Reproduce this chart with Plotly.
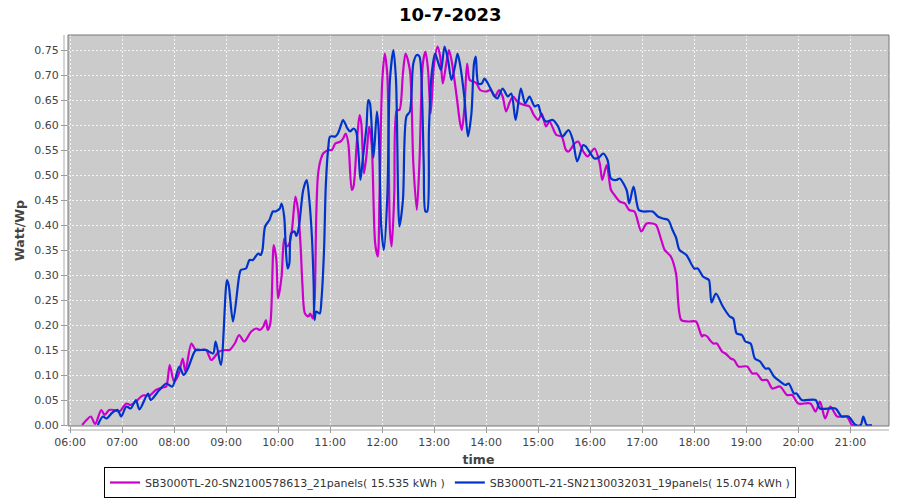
import plotly.graph_objects as go

DAY = "2023-07-10 "

mag_name = "SB3000TL-20-SN2100578613_21panels( 15.535 kWh )"
mag_time = ["06:14","06:19","06:24","06:29","06:36","06:40","06:45","06:51","06:57","07:05",
            "07:10","07:16","07:24","07:32","07:39","07:47","07:51","07:55","08:00","08:05",
            "08:10","08:13","08:20","08:25","08:31","08:37","08:43","08:52","09:00","09:04",
            "09:10","09:15","09:21","09:29","09:35","09:39","09:43","09:46","09:48","09:51",
            "09:55","09:58","10:00","10:04","10:07","10:10","10:13","10:16","10:20","10:23",
            "10:26","10:28","10:31","10:35","10:37","10:40","10:42","10:44","10:46","10:49",
            "10:52","10:58","11:02","11:06","11:12","11:15","11:18","11:21","11:25","11:27",
            "11:31","11:34","11:36","11:39","11:42","11:45","11:48","11:52","11:55","11:57",
            "12:00","12:03","12:06","12:09","12:11","12:14","12:17","12:20","12:24","12:27",
            "12:32","12:36","12:40","12:43","12:47","12:50","12:53","12:56","13:00","13:04",
            "13:07","13:10","13:14","13:17","13:20","13:26","13:30","13:32","13:35","13:38",
            "13:41","13:45","13:49","13:53","14:00","14:05","14:10","14:15","14:19","14:23",
            "14:27","14:31","14:37","14:44","14:50","14:55","15:00","15:04","15:09","15:13",
            "15:21","15:27","15:32","15:35","15:42","15:46","15:52","15:57","16:05","16:11",
            "16:14","16:19","16:24","16:28","16:34","16:40","16:45","16:51","16:59","17:05",
            "17:12","17:16","17:22","17:26","17:33","17:39","17:45","17:53","18:02","18:06",
            "18:09","18:11","18:15","18:18","18:22","18:26","18:32","18:36","18:42","18:46",
            "18:51","19:01","19:07","19:12","19:18","19:24","19:30","19:39","19:47","19:53",
            "20:00","20:14","20:20","20:25","20:31","20:37","20:45","20:56","21:02","21:08"]
mag_val = [0.000,0.010,0.017,0.002,0.030,0.020,0.030,0.030,0.027,0.043,
           0.040,0.047,0.059,0.059,0.070,0.075,0.077,0.120,0.087,0.100,
           0.133,0.107,0.163,0.150,0.150,0.150,0.130,0.147,0.150,0.150,
           0.163,0.180,0.167,0.187,0.193,0.190,0.197,0.210,0.190,0.203,
           0.360,0.330,0.253,0.297,0.373,0.357,0.363,0.390,0.457,0.430,
           0.357,0.283,0.223,0.217,0.223,0.213,0.243,0.417,0.500,0.530,
           0.543,0.550,0.550,0.563,0.567,0.573,0.583,0.563,0.470,0.477,
           0.570,0.620,0.603,0.503,0.540,0.597,0.560,0.363,0.337,0.460,
           0.683,0.743,0.700,0.390,0.357,0.460,0.630,0.630,0.703,0.743,
           0.710,0.523,0.430,0.523,0.723,0.747,0.710,0.623,0.723,0.757,
           0.737,0.683,0.723,0.750,0.730,0.657,0.603,0.590,0.637,0.723,
           0.690,0.687,0.683,0.670,0.667,0.670,0.657,0.670,0.657,0.627,
           0.645,0.657,0.645,0.640,0.637,0.620,0.610,0.623,0.597,0.607,
           0.580,0.577,0.550,0.547,0.563,0.567,0.547,0.537,0.553,0.523,
           0.490,0.520,0.470,0.460,0.447,0.443,0.430,0.427,0.387,0.403,
           0.403,0.400,0.370,0.350,0.337,0.303,0.210,0.207,0.207,0.190,
           0.177,0.180,0.177,0.170,0.163,0.163,0.147,0.143,0.133,0.130,
           0.117,0.117,0.103,0.103,0.090,0.090,0.073,0.077,0.060,0.060,
           0.043,0.043,0.027,0.047,0.013,0.037,0.017,0.017,0.000,0.000]

blue_name = "SB3000TL-21-SN2130032031_19panels( 15.074 kWh )"
blue_time = ["06:32","06:38","06:42","06:49","06:55","06:59","07:05","07:10","07:16","07:20",
             "07:30","07:33","07:43","07:51","07:58","08:06","08:11","08:16","08:25","08:31",
             "08:37","08:45","08:48","08:54","09:01","09:03","09:08","09:15","09:17","09:23",
             "09:27","09:31","09:37","09:40","09:42","09:45","09:50","09:54","09:57","10:02",
             "10:04","10:07","10:09","10:11","10:13","10:15","10:19","10:21","10:23","10:25",
             "10:29","10:33","10:36","10:39","10:41","10:42","10:44","10:48","10:50","10:53",
             "10:55","10:58","11:00","11:06","11:09","11:12","11:15","11:20","11:23","11:27",
             "11:30","11:33","11:35","11:38","11:42","11:44","11:46","11:50","11:54","11:56",
             "11:59","12:02","12:06","12:09","12:13","12:16","12:20","12:24","12:28","12:32",
             "12:36","12:40","12:43","12:46","12:48","12:50","12:52","12:54","12:57","13:01",
             "13:05","13:08","13:12","13:16","13:20","13:24","13:27","13:30","13:35","13:39",
             "13:43","13:46","13:48","13:51","13:55","13:58","14:02","14:10","14:13","14:19",
             "14:25","14:29","14:34","14:40","14:45","14:50","14:56","15:00","15:03","15:09",
             "15:17","15:23","15:28","15:35","15:40","15:45","15:52","15:55","16:05","16:10",
             "16:15","16:20","16:24","16:30","16:34","16:42","16:45","16:50","16:56","17:01",
             "17:12","17:18","17:24","17:30","17:35","17:39","17:43","17:51","18:00","18:04",
             "18:10","18:14","18:17","18:20","18:25","18:33","18:41","18:45","18:49","18:55",
             "18:59","19:05","19:10","19:16","19:22","19:26","19:32","19:39","19:45","19:49",
             "19:55","19:58","20:04","20:20","20:25","20:43","20:50","20:58","21:06","21:12",
             "21:15","21:19","21:25"]
blue_val = [0.000,0.017,0.013,0.025,0.030,0.017,0.037,0.033,0.050,0.031,
            0.063,0.050,0.070,0.083,0.077,0.117,0.100,0.113,0.150,0.150,
            0.150,0.143,0.167,0.120,0.290,0.280,0.207,0.297,0.310,0.313,
            0.330,0.330,0.343,0.340,0.350,0.397,0.410,0.427,0.427,0.433,
            0.443,0.417,0.350,0.313,0.323,0.383,0.387,0.378,0.387,0.410,
            0.470,0.490,0.450,0.377,0.283,0.210,0.227,0.223,0.250,0.350,
            0.477,0.557,0.577,0.577,0.583,0.597,0.610,0.593,0.587,0.593,
            0.587,0.537,0.490,0.537,0.597,0.650,0.643,0.535,0.627,0.590,
            0.397,0.350,0.457,0.690,0.750,0.690,0.397,0.450,0.617,0.627,
            0.723,0.740,0.737,0.657,0.523,0.427,0.427,0.590,0.700,0.743,
            0.723,0.710,0.757,0.730,0.690,0.717,0.743,0.720,0.653,0.577,
            0.623,0.723,0.737,0.683,0.683,0.693,0.683,0.657,0.653,0.673,
            0.657,0.663,0.610,0.673,0.643,0.657,0.637,0.640,0.623,0.607,
            0.610,0.597,0.577,0.590,0.570,0.527,0.560,0.557,0.533,0.535,
            0.543,0.530,0.493,0.490,0.493,0.470,0.443,0.477,0.430,0.427,
            0.427,0.417,0.413,0.410,0.390,0.375,0.350,0.340,0.313,0.313,
            0.297,0.293,0.290,0.245,0.263,0.237,0.217,0.213,0.183,0.180,
            0.167,0.163,0.133,0.127,0.113,0.113,0.097,0.087,0.080,0.083,
            0.063,0.063,0.050,0.050,0.033,0.033,0.017,0.017,0.000,0.000,
            0.017,0.000,0.000]

y_ticks = [0.00,0.05,0.10,0.15,0.20,0.25,0.30,0.35,0.40,0.45,0.50,0.55,0.60,0.65,0.70,0.75]
x_ticks = ["06:00","07:00","08:00","09:00","10:00","11:00","12:00","13:00","14:00",
           "15:00","16:00","17:00","18:00","19:00","20:00","21:00"]

FONT = "DejaVu Sans"
PLOT_W = 900 - 68 - 11
PLOT_H = 500 - 35 - 74

fig = go.Figure()
fig.add_trace(go.Scatter(x=[DAY + t for t in mag_time], y=mag_val, mode="lines", name=mag_name,
                         line=dict(color="#cc00cc", width=2.2, shape="spline", smoothing=0.8)))
fig.add_trace(go.Scatter(x=[DAY + t for t in blue_time], y=blue_val, mode="lines", name=blue_name,
                         line=dict(color="#0033cc", width=2.2, shape="spline", smoothing=0.8)))

grid = dict(showgrid=True, gridcolor="#f4f4f4", gridwidth=1, griddash="2px,2px", zeroline=False,
            automargin=False)

fig.update_layout(
    width=900, height=500,
    margin=dict(l=68, r=11, t=35, b=74, autoexpand=False),
    paper_bgcolor="white", plot_bgcolor="#cbcbcb",
    font=dict(family=FONT, size=11, color="#444444"),
    showlegend=True,
    legend=dict(orientation="h", xref="container", x=0.5, xanchor="center",
                yref="container", y=0.004, yanchor="bottom",
                bordercolor="black", borderwidth=1, bgcolor="white",
                font=dict(family=FONT, size=11, color="#333333"), itemwidth=30,
                tracegroupgap=0),
    xaxis=dict(type="date", range=[DAY + "05:57:40", DAY + "21:44:40"],
               tickvals=[DAY + t for t in x_ticks], ticktext=x_ticks,
               ticks="outside", ticklen=6, tickcolor="#999999",
               tickfont=dict(family=FONT, size=11, color="#444444"),
               title=dict(text="<b>time</b>", standoff=8,
                          font=dict(family=FONT, size=12.5, color="#444444")),
               showline=False, **grid),
    yaxis=dict(range=[-0.002, 0.780], tickvals=y_ticks, tickformat=".2f",
               ticks="outside", ticklen=6, tickcolor="#999999",
               tickfont=dict(family=FONT, size=11, color="#444444"),
               title=dict(text="<b>Watt/Wp</b>", standoff=6,
                          font=dict(family=FONT, size=12.5, color="#444444")),
               showline=False, **grid),
    annotations=[
        dict(text="<b>10-7-2023</b>", xref="paper", yref="paper",
             x=(450 - 68) / PLOT_W, y=1 + (35 - 14) / PLOT_H,
             xanchor="center", yanchor="middle", showarrow=False,
             font=dict(family=FONT, size=18, color="black")),
    ],
    shapes=[
        dict(type="rect", xref="paper", yref="paper", x0=0, x1=1, y0=0, y1=1,
             line=dict(color="#777777", width=1), fillcolor="rgba(0,0,0,0)", layer="above"),
        dict(type="line", xref="paper", yref="paper", x0=-4 / PLOT_W, x1=-4 / PLOT_W, y0=0, y1=1,
             line=dict(color="#aaaaaa", width=1)),
        dict(type="line", xref="paper", yref="paper", x0=0, x1=1, y0=-4 / PLOT_H, y1=-4 / PLOT_H,
             line=dict(color="#aaaaaa", width=1)),
    ],
)

fig.write_html("out.html", config={"displayModeBar": False},
               post_script="document.body.style.margin='0';document.body.style.overflow='hidden';")
